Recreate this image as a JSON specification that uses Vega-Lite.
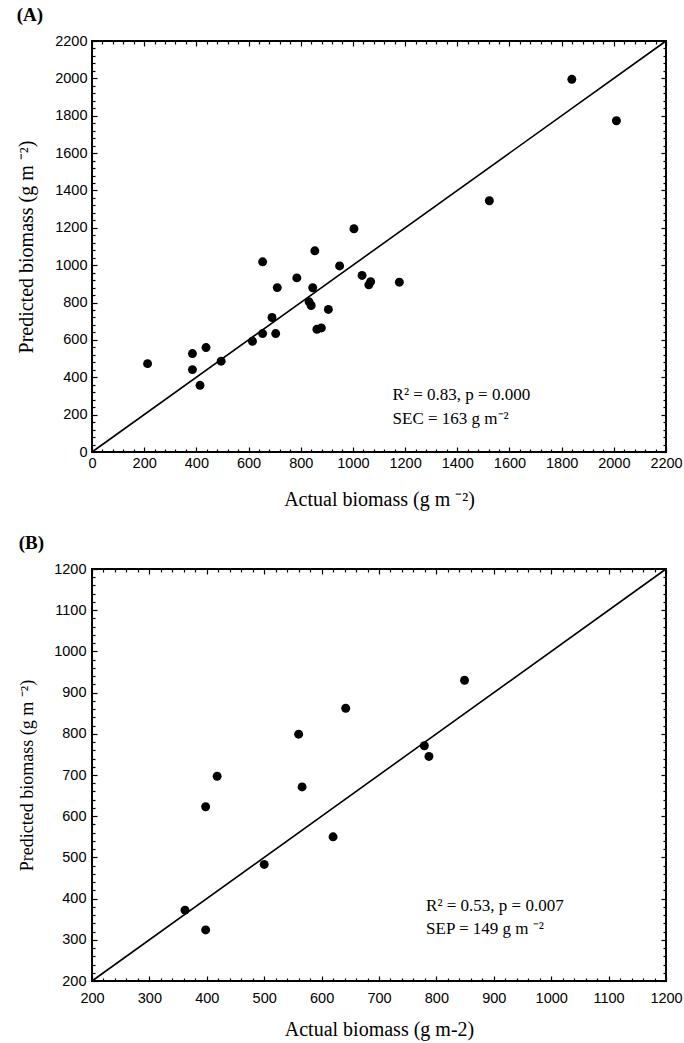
{
  "$schema": "https://vega.github.io/schema/vega-lite/v6.json",
  "background": "white",
  "padding": {"left": 15, "top": 5, "right": 0, "bottom": 2},
  "spacing": 22,
  "config": {
    "view": {"stroke": "black", "strokeWidth": 2},
    "axis": {
      "domain": false,
      "grid": false,
      "tickColor": "black",
      "tickWidth": 1.2,
      "labelFont": "Liberation Sans",
      "labelFontSize": 14.5,
      "labelColor": "black",
      "titleFont": "Liberation Serif",
      "titleFontWeight": "normal",
      "titleColor": "black",
      "format": "d"
    },
    "title": {"font": "Liberation Serif", "fontWeight": "bold", "fontSize": 19, "anchor": "start", "color": "black"}
  },
  "datasets": {
    "diagA": [{"x1": 0, "y1": 0, "x2": 2200, "y2": 2200}],
    "pointsA": [
      {"actual": 213, "predicted": 473},
      {"actual": 385, "predicted": 527},
      {"actual": 385, "predicted": 441},
      {"actual": 414, "predicted": 357},
      {"actual": 437, "predicted": 559},
      {"actual": 495, "predicted": 486},
      {"actual": 615, "predicted": 593},
      {"actual": 654, "predicted": 1018},
      {"actual": 654, "predicted": 634},
      {"actual": 690, "predicted": 720},
      {"actual": 704, "predicted": 634},
      {"actual": 710, "predicted": 880},
      {"actual": 785, "predicted": 932},
      {"actual": 832, "predicted": 804},
      {"actual": 840, "predicted": 784},
      {"actual": 846, "predicted": 879},
      {"actual": 854, "predicted": 1077},
      {"actual": 862, "predicted": 657},
      {"actual": 879, "predicted": 664},
      {"actual": 906, "predicted": 763},
      {"actual": 949, "predicted": 996},
      {"actual": 1004, "predicted": 1195},
      {"actual": 1035, "predicted": 945},
      {"actual": 1061, "predicted": 895},
      {"actual": 1068, "predicted": 912},
      {"actual": 1178, "predicted": 909},
      {"actual": 1523, "predicted": 1345},
      {"actual": 1839, "predicted": 1995},
      {"actual": 2010, "predicted": 1773}
    ],
    "annoA": [
      {"x": 1152, "y": 305, "label": "R² = 0.83, p = 0.000"},
      {"x": 1152, "y": 177, "label": "SEC = 163 g m⁻²"}
    ],
    "diagB": [{"x1": 200, "y1": 200, "x2": 1200, "y2": 1200}],
    "pointsB": [
      {"actual": 362, "predicted": 372},
      {"actual": 398, "predicted": 324},
      {"actual": 398, "predicted": 623},
      {"actual": 418, "predicted": 697},
      {"actual": 500, "predicted": 483},
      {"actual": 560, "predicted": 799},
      {"actual": 566, "predicted": 671},
      {"actual": 620, "predicted": 550},
      {"actual": 642, "predicted": 862},
      {"actual": 779, "predicted": 771},
      {"actual": 787, "predicted": 745},
      {"actual": 849, "predicted": 930}
    ],
    "annoB": [
      {"x": 782, "y": 383, "label": "R² = 0.53, p = 0.007"},
      {"x": 782, "y": 327, "label": "SEP = 149 g m ⁻²"}
    ]
  },
  "vconcat": [
    {
      "title": {"text": "(A)", "offset": 8},
      "width": 574,
      "height": 411,
      "resolve": {"axis": {"x": "independent", "y": "independent"}},
      "layer": [
        {
          "data": {"name": "diagA"},
          "mark": {"type": "rule", "color": "black", "strokeWidth": 1.6},
          "encoding": {
            "x": {
              "field": "x1", "type": "quantitative",
              "scale": {"domain": [0, 2200], "nice": false, "zero": false},
              "axis": {
                "orient": "bottom",
                "title": "Actual biomass (g m ⁻²)",
                "titleFontSize": 20,
                "titlePadding": 18,
                "format": "d",
                "values": [0,40,80,120,160,200,240,280,320,360,400,440,480,520,560,600,640,680,720,760,800,840,880,920,960,1000,1040,1080,1120,1160,1200,1240,1280,1320,1360,1400,1440,1480,1520,1560,1600,1640,1680,1720,1760,1800,1840,1880,1920,1960,2000,2040,2080,2120,2160,2200],
                "labelExpr": "datum.value % 200 === 0 ? datum.label : ''",
                "tickSize": {"condition": {"test": "datum.value % 200 === 0", "value": -5}, "value": -3},
                "labelPadding": 9,
                "labelFlush": false,
                "labelOverlap": false
              }
            },
            "y": {
              "field": "y1", "type": "quantitative",
              "scale": {"domain": [0, 2200], "nice": false, "zero": false},
              "axis": {
                "orient": "left",
                "title": "Predicted biomass (g m  ⁻²)",
                "titleFontSize": 20,
                "titlePadding": 18,
                "format": "d",
                "values": [0,40,80,120,160,200,240,280,320,360,400,440,480,520,560,600,640,680,720,760,800,840,880,920,960,1000,1040,1080,1120,1160,1200,1240,1280,1320,1360,1400,1440,1480,1520,1560,1600,1640,1680,1720,1760,1800,1840,1880,1920,1960,2000,2040,2080,2120,2160,2200],
                "labelExpr": "datum.value % 200 === 0 ? datum.label : ''",
                "tickSize": {"condition": {"test": "datum.value % 200 === 0", "value": -5}, "value": -3},
                "labelPadding": 10,
                "labelFlush": false,
                "labelOverlap": false
              }
            },
            "x2": {"field": "x2"},
            "y2": {"field": "y2"}
          }
        },
        {
          "data": {"name": "pointsA"},
          "mark": {"type": "circle", "size": 80, "color": "black", "opacity": 1},
          "encoding": {
            "x": {
              "field": "actual", "type": "quantitative",
              "scale": {"domain": [0, 2200], "nice": false, "zero": false},
              "axis": {
                "orient": "top", "title": null, "labels": false,
                "values": [0,40,80,120,160,200,240,280,320,360,400,440,480,520,560,600,640,680,720,760,800,840,880,920,960,1000,1040,1080,1120,1160,1200,1240,1280,1320,1360,1400,1440,1480,1520,1560,1600,1640,1680,1720,1760,1800,1840,1880,1920,1960,2000,2040,2080,2120,2160,2200],
                "tickSize": {"condition": {"test": "datum.value % 200 === 0", "value": -5}, "value": -3}
              }
            },
            "y": {
              "field": "predicted", "type": "quantitative",
              "scale": {"domain": [0, 2200], "nice": false, "zero": false},
              "axis": {
                "orient": "right", "title": null, "labels": false,
                "values": [0,40,80,120,160,200,240,280,320,360,400,440,480,520,560,600,640,680,720,760,800,840,880,920,960,1000,1040,1080,1120,1160,1200,1240,1280,1320,1360,1400,1440,1480,1520,1560,1600,1640,1680,1720,1760,1800,1840,1880,1920,1960,2000,2040,2080,2120,2160,2200],
                "tickSize": {"condition": {"test": "datum.value % 200 === 0", "value": -5}, "value": -3}
              }
            }
          }
        },
        {
          "data": {"name": "annoA"},
          "mark": {"type": "text", "align": "left", "baseline": "middle", "font": "Liberation Serif", "fontSize": 17, "color": "black"},
          "encoding": {
            "x": {"field": "x", "type": "quantitative", "scale": {"domain": [0, 2200], "nice": false, "zero": false}, "axis": null},
            "y": {"field": "y", "type": "quantitative", "scale": {"domain": [0, 2200], "nice": false, "zero": false}, "axis": null},
            "text": {"field": "label"}
          }
        }
      ]
    },
    {
      "title": {"text": "(B)", "offset": 8},
      "width": 574,
      "height": 412,
      "resolve": {"axis": {"x": "independent", "y": "independent"}},
      "layer": [
        {
          "data": {"name": "diagB"},
          "mark": {"type": "rule", "color": "black", "strokeWidth": 1.6},
          "encoding": {
            "x": {
              "field": "x1", "type": "quantitative",
              "scale": {"domain": [200, 1200], "nice": false, "zero": false},
              "axis": {
                "orient": "bottom",
                "title": "Actual biomass (g m-2)",
                "titleFontSize": 20,
                "titlePadding": 13,
                "format": "d",
                "values": [200,220,240,260,280,300,320,340,360,380,400,420,440,460,480,500,520,540,560,580,600,620,640,660,680,700,720,740,760,780,800,820,840,860,880,900,920,940,960,980,1000,1020,1040,1060,1080,1100,1120,1140,1160,1180,1200],
                "labelExpr": "datum.value % 100 === 0 ? datum.label : ''",
                "tickSize": {"condition": {"test": "datum.value % 100 === 0", "value": -5}, "value": -3},
                "labelPadding": 15,
                "labelFlush": false,
                "labelOverlap": false
              }
            },
            "y": {
              "field": "y1", "type": "quantitative",
              "scale": {"domain": [200, 1200], "nice": false, "zero": false},
              "axis": {
                "orient": "left",
                "title": "Predicted biomass (g m ⁻²)",
                "titleFontSize": 18,
                "titlePadding": 17,
                "format": "d",
                "values": [200,220,240,260,280,300,320,340,360,380,400,420,440,460,480,500,520,540,560,580,600,620,640,660,680,700,720,740,760,780,800,820,840,860,880,900,920,940,960,980,1000,1020,1040,1060,1080,1100,1120,1140,1160,1180,1200],
                "labelExpr": "datum.value % 100 === 0 ? datum.label : ''",
                "tickSize": {"condition": {"test": "datum.value % 100 === 0", "value": -5}, "value": -3},
                "labelPadding": 11,
                "labelFlush": false,
                "labelOverlap": false
              }
            },
            "x2": {"field": "x2"},
            "y2": {"field": "y2"}
          }
        },
        {
          "data": {"name": "pointsB"},
          "mark": {"type": "circle", "size": 80, "color": "black", "opacity": 1},
          "encoding": {
            "x": {
              "field": "actual", "type": "quantitative",
              "scale": {"domain": [200, 1200], "nice": false, "zero": false},
              "axis": {
                "orient": "top", "title": null, "labels": false,
                "values": [200,220,240,260,280,300,320,340,360,380,400,420,440,460,480,500,520,540,560,580,600,620,640,660,680,700,720,740,760,780,800,820,840,860,880,900,920,940,960,980,1000,1020,1040,1060,1080,1100,1120,1140,1160,1180,1200],
                "tickSize": {"condition": {"test": "datum.value % 100 === 0", "value": -5}, "value": -3}
              }
            },
            "y": {
              "field": "predicted", "type": "quantitative",
              "scale": {"domain": [200, 1200], "nice": false, "zero": false},
              "axis": {
                "orient": "right", "title": null, "labels": false,
                "values": [200,220,240,260,280,300,320,340,360,380,400,420,440,460,480,500,520,540,560,580,600,620,640,660,680,700,720,740,760,780,800,820,840,860,880,900,920,940,960,980,1000,1020,1040,1060,1080,1100,1120,1140,1160,1180,1200],
                "tickSize": {"condition": {"test": "datum.value % 100 === 0", "value": -5}, "value": -3}
              }
            }
          }
        },
        {
          "data": {"name": "annoB"},
          "mark": {"type": "text", "align": "left", "baseline": "middle", "font": "Liberation Serif", "fontSize": 17, "color": "black"},
          "encoding": {
            "x": {"field": "x", "type": "quantitative", "scale": {"domain": [200, 1200], "nice": false, "zero": false}, "axis": null},
            "y": {"field": "y", "type": "quantitative", "scale": {"domain": [200, 1200], "nice": false, "zero": false}, "axis": null},
            "text": {"field": "label"}
          }
        }
      ]
    }
  ]
}
